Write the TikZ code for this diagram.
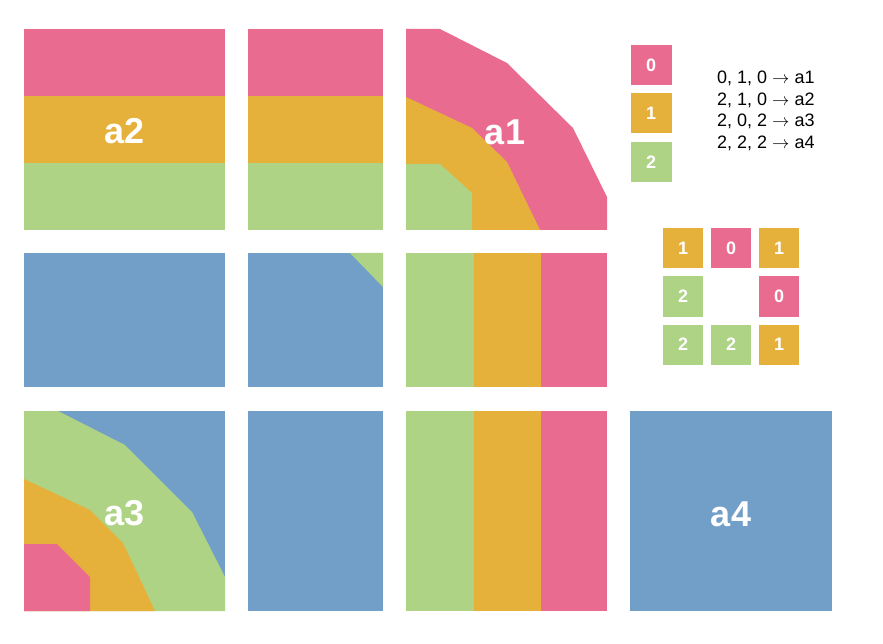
\documentclass[tikz,border=0pt]{standalone}
\usepackage{fontspec}
\setmainfont{Liberation Sans}
\definecolor{cpink}{HTML}{E96C90}
\definecolor{corange}{HTML}{E6B13A}
\definecolor{cgreen}{HTML}{AED385}
\definecolor{cblue}{HTML}{719FC8}
\newcommand{\myarr}{\ensuremath{\rightarrow}}
\begin{document}
\begin{tikzpicture}[x=1pt,y=-1pt,
  biglabel/.style={text=white,font=\fontsize{36}{36}\selectfont\bfseries,inner sep=0pt},
  keybox/.style={minimum width=41pt,minimum height=40pt,inner sep=0pt,text=white,font=\fontsize{18}{18}\selectfont\bfseries},
  gridbox/.style={minimum width=40pt,minimum height=40pt,inner sep=0pt,text=white,font=\fontsize{18}{18}\selectfont\bfseries}]
\useasboundingbox (0,0) rectangle (883,644);
% ---- row 1
% a2 tile
\fill[cpink] (24,29) rectangle (225,96);
\fill[corange] (24,96) rectangle (225,163);
\fill[cgreen] (24,163) rectangle (225,230);
% col2 row1
\fill[cpink] (248,29) rectangle (383,96);
\fill[corange] (248,96) rectangle (383,163);
\fill[cgreen] (248,163) rectangle (383,230);
% a1 tile
\fill[cpink] (406,29) -- (440,29) -- (507,63) -- (573,128) -- (607,197) -- (607,230) -- (406,230) -- cycle;
\fill[corange] (406,97) -- (472,128) -- (507,162) -- (540,230) -- (406,230) -- cycle;
\fill[cgreen] (406,164) -- (440,164) -- (472,193) -- (472,230) -- (406,230) -- cycle;
% ---- row 2
\fill[cblue] (24,253) rectangle (225,387);
\fill[cblue] (248,253) rectangle (383,387);
\fill[cgreen] (350,253) -- (383,287) -- (383,253) -- cycle;
\fill[cgreen] (406,253) rectangle (474,387);
\fill[corange] (474,253) rectangle (541,387);
\fill[cpink] (541,253) rectangle (607,387);
% ---- row 3
% a3 tile
\fill[cblue] (24,411) rectangle (225,611);
\fill[cgreen] (24,411) -- (58,411) -- (125,445) -- (192,512) -- (225,577) -- (225,611) -- (24,611) -- cycle;
\fill[corange] (24,479) -- (90,510) -- (123,543) -- (155,611) -- (24,611) -- cycle;
\fill[cpink] (24,544) -- (57,544) -- (90,577) -- (90,611) -- (24,611) -- cycle;
\fill[cblue] (248,411) rectangle (383,611);
\fill[cgreen] (406,411) rectangle (474,611);
\fill[corange] (474,411) rectangle (541,611);
\fill[cpink] (541,411) rectangle (607,611);
% a4 tile
\fill[cblue] (630,411) rectangle (832,611);
% ---- labels
\node[biglabel] (la2) at (125,131) {a2};
\node[biglabel] (la1) at (505,132) {a1};
\node[biglabel] (la3) at (125,513) {a3};
\node[biglabel] (la4) at (731,514) {a4};
% ---- key
\node[keybox,fill=cpink] (k0) at (651,65) {0};
\node[keybox,fill=corange] (k1) at (651,113) {1};
\node[keybox,fill=cgreen] (k2) at (651,162) {2};
\node[align=left,anchor=west,inner sep=0pt,font=\fontsize{18}{21.7}\selectfont] (rules) at (717,111)
 {0, 1, 0 \myarr{} a1\\2, 1, 0 \myarr{} a2\\2, 0, 2 \myarr{} a3\\2, 2, 2 \myarr{} a4};
% ---- 3x3 ring
\node[gridbox,fill=corange] (g11) at (683,248) {1};
\node[gridbox,fill=cpink] (g12) at (731,248) {0};
\node[gridbox,fill=corange] (g13) at (779,248) {1};
\node[gridbox,fill=cgreen] (g21) at (683,296.5) {2};
\node[gridbox,fill=cpink] (g23) at (779,296.5) {0};
\node[gridbox,fill=cgreen] (g31) at (683,344.5) {2};
\node[gridbox,fill=cgreen] (g32) at (731,344.5) {2};
\node[gridbox,fill=corange] (g33) at (779,344.5) {1};
\end{tikzpicture}
\end{document}
